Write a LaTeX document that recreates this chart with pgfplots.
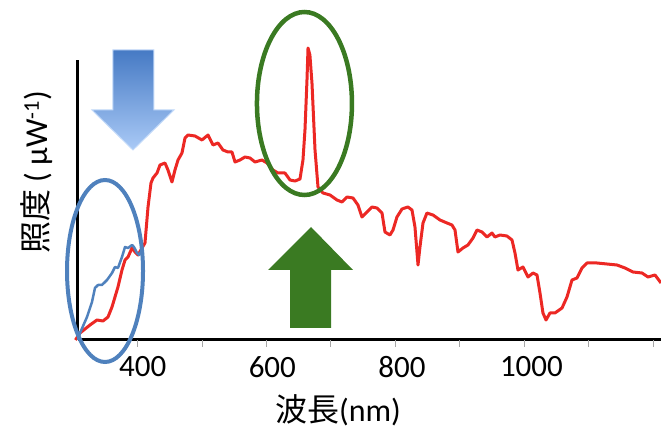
\documentclass[border=0pt]{standalone}
\usepackage{fontspec}
\setmainfont{Carlito}
\newfontfamily\cjk{Noto Sans CJK JP}
\usepackage{pgfplots}
\pgfplotsset{compat=1.18}
\definecolor{myred}{RGB}{236,40,36}
\definecolor{myblue}{RGB}{79,129,189}
\definecolor{mygreen}{RGB}{58,122,34}
\definecolor{arrowtop}{RGB}{70,122,196}
\definecolor{arrowbot}{RGB}{170,202,246}
\begin{document}
\begin{tikzpicture}
\begin{axis}[
  scale only axis, width=583pt, height=280pt,
  xmin=300, xmax=1200, ymin=0, ymax=280,
  axis x line=bottom, axis y line=left,
  axis line style={-, line width=3pt, black},
  xtick={400,600,800,1000}, xticklabels={400,600,800,1000},
  ytick=\empty,
  major tick length=0pt,
  tick label style={font=\fontsize{31}{36}\selectfont},
  xticklabel style={yshift=-13pt},
  extra x ticks={392,491.5,591,690.5,790,889.5,989,1088.5,1188},
  extra x tick labels={},
  extra x tick style={major tick length=7pt, tick align=outside, tick style={gray!70, line width=1pt}},
  clip=false,
]
\addplot[myred, line width=3pt, line join=round] coordinates {
(296,0) (303.1,7) (318.5,15) (329.3,20) (338.6,19) (346.3,23) (352.5,33) (357.1,43)
(361.7,53) (367.9,70) (372.6,80) (377.2,83) (383.4,92) (388.0,88) (392.6,85) (398.8,92)
(403.4,97) (408.1,133) (412.7,157) (415.8,162) (422.0,167) (426.6,175) (434.3,177)
(438.9,170) (445.1,158) (449.7,170) (454.4,180) (460.5,187) (465.2,202) (469.8,205)
(480.6,204) (491.4,200) (500.7,205) (508.4,195) (516.1,197) (523.8,190) (531.6,188)
(537.7,188) (542.4,178) (550.1,180) (557.8,183) (565.5,182) (573.2,178) (584.0,180)
(591.8,177) (601.0,170) (608.7,167) (619.5,167) (627.3,160) (635.0,159) (642.7,161)
(647.3,180) (650.4,210) (653.5,260) (655.1,292) (658,285) (661.2,257) (665.9,190) (670.5,153)
(678.2,147) (689.0,145) (699.8,140) (707.5,138) (715.3,143) (724.5,142) (732.2,135)
(738.4,123) (746.1,128) (753.8,133) (761.6,132) (769.3,127) (773.9,108) (781.6,105)
(786.3,110) (792.4,123) (800.2,131) (809.4,133) (815.6,130) (820.2,113) (824.9,75)
(827.9,93) (832.6,117) (838.7,127) (848.0,125) (858.8,120) (869.6,117) (877.3,115)
(882.0,110) (886.6,88) (894.3,92) (902.0,95) (909.8,102) (915.9,110) (923.7,108)
(931.4,103) (939.1,107) (943.7,103) (951.4,105) (962.2,104) (970.0,100) (974.6,87)
(979.2,70) (986.9,73) (994.7,63) (1002.4,67) (1008.6,65) (1013.2,47) (1017.8,27)
(1022.5,20) (1028.6,27) (1036.3,27) (1047.2,32) (1054.9,43) (1062.6,60) (1070.3,62)
(1078.0,72) (1085.7,77) (1101.2,77) (1116.6,76) (1132.1,75) (1144.4,72) (1156.8,68)
(1170.7,67) (1180.0,63) (1190.8,65) (1200.0,57)
};
\addplot[myblue, line width=2.5pt, line join=round] coordinates {
(300,0) (303.1,7) (313.9,23) (321.6,38) (326.2,52) (330.9,55) (337.0,55) (344.8,60)
(352.5,67) (357.1,73) (361.7,72) (367.9,83) (372.6,93) (377.2,92) (383.4,95) (386.4,93)
(391.1,87) (394.2,85) (398.8,90)
};
\coordinate (O) at (axis cs:300,0);
\draw[myblue, line width=4pt] (axis cs:341.7,69) ellipse [x radius=38pt, y radius=91pt];
\draw[mygreen, line width=4.5pt] (axis cs:649.6,236.5) ellipse [x radius=47.5pt, y radius=91.5pt];
\shade[top color=arrowtop, bottom color=arrowbot, draw=arrowbot!70!white, line width=1pt]
  (axis cs:354,290) -- ++(41pt,0pt) -- ++(0pt,-60pt) -- ++(20pt,0pt) -- ++(-41pt,-40pt)
  -- ++(-41pt,40pt) -- ++(21pt,0pt) -- cycle;
\fill[mygreen] (axis cs:659.7,113) -- ++(42pt,-43pt) -- ++(-22pt,0pt) -- ++(0pt,-58pt)
  -- ++(-41pt,0pt) -- ++(0pt,58pt) -- ++(-22pt,0pt) -- cycle;
\end{axis}
\path (O) ++(-41pt,168pt) node[rotate=90, font=\fontsize{32}{36}\selectfont] {{\cjk 照度} ( μW\textsuperscript{-1})};
\path (O) ++(260pt,-70pt) node[font=\fontsize{32}{36}\selectfont] {{\cjk 波長}(nm)};
\pgfresetboundingbox
\path[use as bounding box] (O) ++(-78pt,-90pt) rectangle ++(661pt,430pt);
\end{tikzpicture}
\end{document}
